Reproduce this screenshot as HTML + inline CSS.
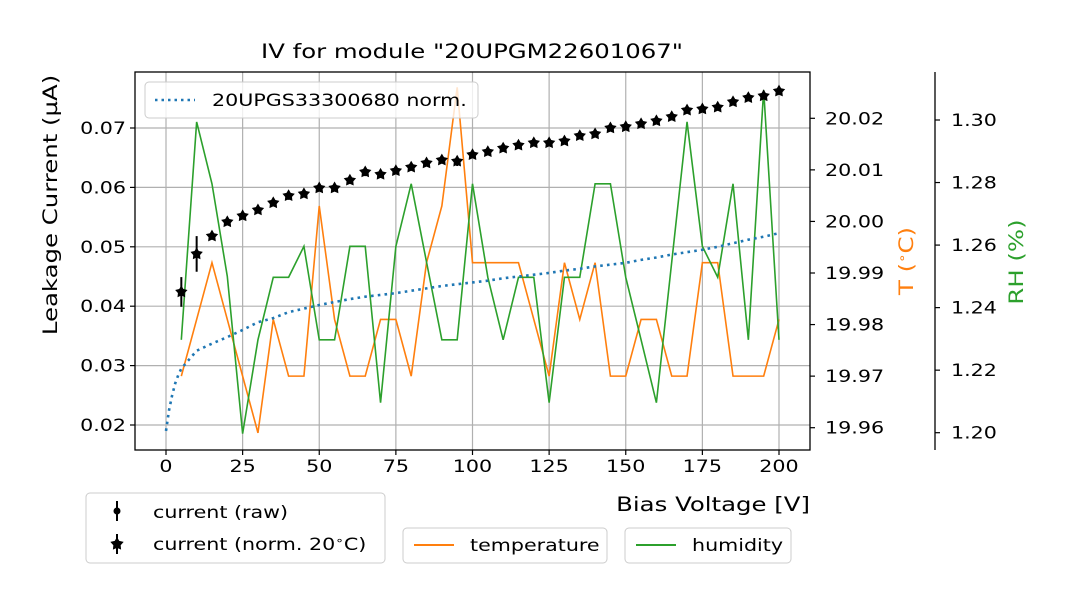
<!DOCTYPE html>
<html><head><meta charset="utf-8">
<style>
body{margin:0;background:#fff;}
svg text{font-family:"DejaVu Sans","Liberation Sans",sans-serif;}
</style></head>
<body>
<svg id="chart" width="1080" height="600" viewBox="0 0 1080 600" xmlns="http://www.w3.org/2000/svg">
<rect width="1080" height="600" fill="#fff"/>
<g id="grid"></g>
<g id="marks"></g>
<g id="axes"></g>
<text x="472" y="58" font-size="19.5" text-anchor="middle">IV for module "20UPGM22601067"</text>
<text x="810" y="511" font-size="19.5" text-anchor="end">Bias Voltage [V]</text>
<text transform="translate(57,205) rotate(-90)" font-size="19.5" text-anchor="middle">Leakage Current (µA)</text>
<text transform="translate(913,261) rotate(-90)" font-size="19.5" text-anchor="middle" fill="#ff7f0e">T (<tspan font-size="12" dy="-7">∘</tspan><tspan dy="7">C)</tspan></text>
<text transform="translate(1023,262) rotate(-90)" font-size="19.5" text-anchor="middle" fill="#2ca02c">RH (%)</text>
<g>
<rect x="145" y="82" width="333" height="36" rx="4" fill="#fff" fill-opacity="0.8" stroke="#ccc"/>
<line x1="155" y1="100" x2="195" y2="100" stroke="#1f77b4" stroke-width="2.5" stroke-dasharray="2.5,4"/>
<text x="212" y="106" font-size="16.5">20UPGS33300680 norm.</text>
</g>
<g>
<rect x="86" y="493" width="299" height="70" rx="4" fill="#fff" stroke="#ccc"/>
<line x1="117" y1="501" x2="117" y2="521" stroke="#000" stroke-width="2"/>
<circle cx="117" cy="511" r="3.5" fill="#000"/>
<text x="153" y="518" font-size="16.5">current (raw)</text>
<line x1="117" y1="534" x2="117" y2="554" stroke="#000" stroke-width="2"/>
<path id="legstar" fill="#000" d=""/>
<text x="153" y="550" font-size="16.5">current (norm. 20<tspan font-size="11" dy="-6">∘</tspan><tspan dy="6">C)</tspan></text>
</g>
<g>
<rect x="403" y="528" width="204" height="35" rx="4" fill="#fff" stroke="#ccc"/>
<line x1="414" y1="545" x2="454" y2="545" stroke="#ff7f0e" stroke-width="2"/>
<text x="470" y="551" font-size="16.5">temperature</text>
</g>
<g>
<rect x="625" y="528" width="166" height="35" rx="4" fill="#fff" stroke="#ccc"/>
<line x1="636" y1="545" x2="676" y2="545" stroke="#2ca02c" stroke-width="2"/>
<text x="692" y="551" font-size="16.5">humidity</text>
</g>
</svg>
<script>
const voltages=[5,10,15,20,25,30,35,40,45,50,55,60,65,70,75,80,85,90,95,100,105,110,115,120,125,130,135,140,145,150,155,160,165,170,175,180,185,190,195,200];
const currentNorm=[0.0424,0.0488,0.0518,0.0542,0.0552,0.0562,0.0574,0.0586,0.0589,0.0599,0.0599,0.0612,0.0626,0.0622,0.0628,0.0634,0.0641,0.0646,0.0644,0.0655,0.066,0.0666,0.0671,0.0675,0.0675,0.0678,0.0687,0.069,0.070,0.0702,0.0707,0.0712,0.0719,0.073,0.0732,0.0735,0.0744,0.0751,0.0754,0.0762];
const currentRaw=currentNorm.slice();
const currentErr=[0.0025,0.003,0.0006,0.0006,0.0005,0.0005,0.0006,0.0007,0.0006,0.0005,0.0005,0.0005,0.0007,0.0006,0.0006,0.0005,0.0005,0.0005,0.0008,0.0005,0.0005,0.0005,0.0005,0.0005,0.0005,0.0005,0.0005,0.0005,0.0005,0.0005,0.0005,0.0005,0.0005,0.0005,0.0005,0.0005,0.0005,0.0005,0.0005,0.0005];
const refVoltages=[0,1,2,3,4,5,10,15,20,25,30,35,40,45,50,55,60,65,70,75,80,85,90,95,100,105,110,115,120,125,130,135,140,145,150,155,160,165,170,175,180,185,190,195,200];
const refCurrent=[0.019,0.0225,0.025,0.027,0.0284,0.0295,0.0325,0.0337,0.0348,0.036,0.0373,0.038,0.039,0.0396,0.0402,0.0407,0.0412,0.0416,0.0419,0.0422,0.0426,0.043,0.0434,0.0437,0.044,0.0443,0.0447,0.045,0.0453,0.0456,0.046,0.0463,0.0467,0.047,0.0473,0.0478,0.0482,0.0487,0.0491,0.0495,0.05,0.0506,0.0512,0.0517,0.0523];
const temperature=[19.970,19.981,19.992,19.981,19.970,19.959,19.981,19.970,19.970,20.003,19.981,19.970,19.970,19.981,19.981,19.970,19.992,20.003,20.026,19.992,19.992,19.992,19.992,19.981,19.970,19.992,19.981,19.992,19.970,19.970,19.981,19.981,19.970,19.970,19.992,19.992,19.970,19.970,19.970,19.981];
const humidity=[1.2297,1.2994,1.2796,1.2500,1.1997,1.2297,1.2497,1.2497,1.2596,1.2297,1.2297,1.2596,1.2596,1.2096,1.2596,1.2796,1.2546,1.2297,1.2297,1.2796,1.2497,1.2297,1.2497,1.2497,1.2096,1.2497,1.2497,1.2796,1.2796,1.2497,1.2297,1.2096,1.2546,1.2994,1.2596,1.2497,1.2796,1.2297,1.3096,1.2297];
const xTicks=[0,25,50,75,100,125,150,175,200];
const yTicks=[0.02,0.03,0.04,0.05,0.06,0.07];
const tTicks=[19.96,19.97,19.98,19.99,20.00,20.01,20.02];
const rhTicks=[1.20,1.22,1.24,1.26,1.28,1.30];

const L=135,R=810,T=72,B=450;
const xs=v=>166+(v-0)*(779-166)/200;
const ys=v=>425+(v-0.02)*(128-425)/0.05;
const ts=v=>427.7+(v-19.96)*(118.3-427.7)/0.06;
const rs=v=>432.7+(v-1.20)*(120-432.7)/0.10;
const NS='http://www.w3.org/2000/svg';
function mk(tag,attrs,parent){const e=document.createElementNS(NS,tag);for(const k in attrs)e.setAttribute(k,attrs[k]);parent.appendChild(e);return e;}
const grid=document.getElementById('grid'),marks=document.getElementById('marks'),axes=document.getElementById('axes');
xTicks.forEach(v=>{const l=mk('line',{x1:xs(v),x2:xs(v),y1:T,y2:B,stroke:'#b0b0b0','stroke-width':1.2},grid);});
yTicks.forEach(v=>{const l=mk('line',{x1:L,x2:R,y1:ys(v),y2:ys(v),stroke:'#b0b0b0','stroke-width':1.2},grid);});

function starPath(cx,cy,r){let d='';for(let i=0;i<10;i++){const a=-Math.PI/2+i*Math.PI/5;const rr=i%2?r*0.55:r;d+=(i?'L':'M')+(cx+rr*Math.cos(a)).toFixed(2)+','+(cy+rr*Math.sin(a)).toFixed(2);}return d+'Z';}
document.getElementById('legstar').setAttribute('d',starPath(117,544,7));

function line(xv,yv,sx,sy,attrs,name){const p=xv.map((x,i)=>(i?'L':'M')+sx(x).toFixed(2)+','+sy(yv[i]).toFixed(2)).join('');const e=mk('path',Object.assign({d:p,fill:'none'},attrs),marks);}
line(voltages,temperature,xs,ts,{stroke:'#ff7f0e','stroke-width':1.6},'temperature-line');
line(voltages,humidity,xs,rs,{stroke:'#2ca02c','stroke-width':1.6},'humidity-line');
line(refVoltages,refCurrent,xs,ys,{stroke:'#1f77b4','stroke-width':2.6,'stroke-dasharray':'2.6,4.2'},'reference-current-line');
voltages.forEach((v,i)=>{
  const cx=xs(v);
  const c=mk('circle',{cx:cx,cy:ys(currentRaw[i]),r:3.5,fill:'#000'},marks);
  
  
  const eb=mk('line',{x1:cx,x2:cx,y1:ys(currentNorm[i]-currentErr[i]),y2:ys(currentNorm[i]+currentErr[i]),stroke:'#000','stroke-width':2},marks);
  
  
  const s=mk('path',{d:starPath(cx,ys(currentNorm[i]),6.5),fill:'#000'},marks);
  
  
});
const fr=mk('rect',{x:L,y:T,width:R-L,height:B-T,fill:'none',stroke:'#000','stroke-width':1.3},axes);


xTicks.forEach(v=>{mk('line',{x1:xs(v),x2:xs(v),y1:B,y2:B+5,stroke:'#000','stroke-width':1.2},axes);const t=mk('text',{x:xs(v),y:B+22,'font-size':16.5,'text-anchor':'middle'},axes);t.textContent=v;});
yTicks.forEach(v=>{mk('line',{x1:L-5,x2:L,y1:ys(v),y2:ys(v),stroke:'#000','stroke-width':1.2},axes);const t=mk('text',{x:L-9,y:ys(v)+6,'font-size':16.5,'text-anchor':'end'},axes);t.textContent=v.toFixed(2);});
tTicks.forEach(v=>{mk('line',{x1:R,x2:R+5,y1:ts(v),y2:ts(v),stroke:'#000','stroke-width':1.2},axes);const t=mk('text',{x:R+15,y:ts(v)+6,'font-size':16.5},axes);t.textContent=v.toFixed(2);});
const sp=mk('line',{x1:935,x2:935,y1:T,y2:B,stroke:'#000','stroke-width':1.3},axes);


rhTicks.forEach(v=>{mk('line',{x1:935,x2:940,y1:rs(v),y2:rs(v),stroke:'#000','stroke-width':1.2},axes);const t=mk('text',{x:951,y:rs(v)+6,'font-size':16.5},axes);t.textContent=v.toFixed(2);});
// widen glyphs to match reference font metrics
document.querySelectorAll('#chart text').forEach(t=>{const w=t.getComputedTextLength();if(w>0){t.setAttribute('textLength',(w*1.25).toFixed(1));t.setAttribute('lengthAdjust','spacingAndGlyphs');}});
</script>
</body></html>
